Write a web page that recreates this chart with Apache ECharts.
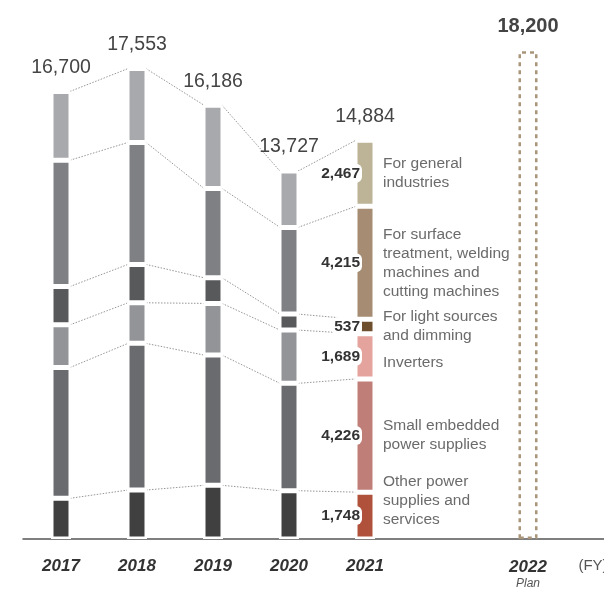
<!DOCTYPE html>
<html>
<head>
<meta charset="utf-8">
<script src="https://cdn.jsdelivr.net/npm/echarts@6/dist/echarts.min.js"></script>
<style>
  html, body { margin: 0; padding: 0; background: #fff; }
  #chart { width: 604px; height: 590px; }
</style>
</head>
<body>
<div id="chart"></div>
<script>
// fiscal years and sales by application (bottom to top of each stack)
const years = ['2017', '2018', '2019', '2020', '2021'];
const otherPower = [1518, 1828, 2003, 1802, 1748];
const smallEmbedded = [4880, 5472, 4860, 4006, 4226];
const inverters = [1593, 1514, 1928, 1988, 1689];
const lightSources = [1429, 1432, 955, 597, 537];
const surfaceTreatment = [4714, 4551, 3335, 3234, 4215];
const generalIndustries = [2566, 2756, 3105, 2100, 2467];
const totals = [16700, 17553, 16186, 13727, 14884];
const planYear = '2022';
const planTotal = 18200;

const segments = [otherPower, smallEmbedded, inverters, lightSources, surfaceTreatment, generalIndustries];
const segmentNames = [
    'Other power\nsupplies and\nservices',
    'Small embedded\npower supplies',
    'Inverters',
    'For light sources\nand dimming',
    'For surface\ntreatment, welding\nmachines and\ncutting machines',
    'For general\nindustries'
];
const greys = ['#404040', '#6a6b6f', '#939498', '#58595b', '#7f8084', '#a8a9ac'];
const colors2021 = ['#b0523b', '#c07e78', '#e5a39d', '#6d4f2e', '#a58c73', '#bdb497'];
const nameOffsets = [-15, 0, 6, 0, 0, 0];

const fmt = v => v.toLocaleString('en-US');
const last = years.length - 1;

// cumulative tops of each segment for the connector lines
const cumTops = segments.map((s, k) => years.map((y, i) => {
    let sum = 0;
    for (let j = 0; j <= k; j++) sum += segments[j][i];
    return sum;
}));

var chartDom = document.getElementById('chart');
var myChart = echarts.init(chartDom);
var option;

const barSeries = segments.map((vals, k) => ({
    type: 'bar',
    stack: 'all',
    barWidth: 20,
    z: 3,
    itemStyle: { color: greys[k], borderColor: '#fff', borderWidth: 2.5 },
    data: vals.map((v, i) => i === last ? {
        value: v,
        itemStyle: { color: colors2021[k] },
        label: {
            show: true,
            position: [7, '50%'],
            align: 'right',
            verticalAlign: 'middle',
            formatter: fmt(v),
            fontFamily: 'Liberation Sans, Arial, sans-serif',
            fontWeight: 'bold',
            fontSize: 15.5,
            color: '#333',
            backgroundColor: '#fff',
            borderRadius: 6,
            padding: [2, 2, 1, 2]
        }
    } : v)
}));

option = {
    animation: false,
    grid: [
        { left: 23, width: 608, top: 3, bottom: 51, outerBoundsMode: 'none' },
        { left: 500, width: 56, top: 3, bottom: 51, outerBoundsMode: 'none' }
    ],
    xAxis: [
        {
            type: 'category',
            gridIndex: 0,
            data: years.concat(['', '', { value: '(FY)', textStyle: { fontWeight: 'normal', fontStyle: 'normal', color: '#555', fontSize: 15, fontFamily: 'Liberation Sans, Arial, sans-serif' } }]),
            axisLine: { lineStyle: { color: '#555', width: 1.5 } },
            axisTick: { show: false },
            axisLabel: {
                margin: 19,
                fontFamily: 'Liberation Sans Narrow, Liberation Sans, Arial, sans-serif',
                fontWeight: 'bold',
                fontStyle: 'italic',
                fontSize: 17,
                color: '#333',
                interval: 0
            }
        },
        {
            type: 'category',
            gridIndex: 1,
            data: [planYear],
            axisLine: { show: false },
            axisTick: { show: false },
            axisLabel: {
                margin: 19,
                formatter: v => '{y|' + v + '}\n{p|Plan}',
                rich: {
                    y: {
                        fontFamily: 'Liberation Sans Narrow, Liberation Sans, Arial, sans-serif',
                        fontWeight: 'bold', fontStyle: 'italic', fontSize: 17, color: '#333', lineHeight: 18
                    },
                    p: {
                        fontFamily: 'Liberation Sans, Arial, sans-serif',
                        fontStyle: 'italic', fontSize: 12, color: '#555', lineHeight: 16
                    }
                }
            }
        }
    ],
    yAxis: [
        { type: 'value', gridIndex: 0, min: 0, max: 20000, show: false },
        { type: 'value', gridIndex: 1, min: 0, max: 20000, show: false }
    ],
    series: barSeries.concat([
        {
            // zero-height cap carrying the total labels
            type: 'bar',
            stack: 'all',
            barWidth: 20,
            z: 4,
            itemStyle: { color: 'transparent', borderWidth: 0 },
            data: totals.map(() => 0),
            label: {
                show: true,
                position: 'top',
                distance: 14,
                formatter: p => fmt(totals[p.dataIndex]),
                fontFamily: 'Liberation Sans, Arial, sans-serif',
                fontSize: 19.5,
                color: '#444',
                fontWeight: 'normal'
            },
            labelLayout: { hideOverlap: false }
        },
        {
            type: 'bar',
            xAxisIndex: 1,
            yAxisIndex: 1,
            barWidth: 19,
            data: [planTotal],
            itemStyle: {
                color: 'rgba(0,0,0,0)',
                borderColor: '#a8957a',
                borderWidth: 2.5,
                borderType: [4, 4]
            },
            label: {
                show: true,
                position: 'top',
                distance: 15,
                formatter: p => fmt(p.value),
                fontFamily: 'Liberation Sans, Arial, sans-serif',
                fontWeight: 'bold',
                fontSize: 20,
                color: '#444'
            }
        },
        {
            // dotted connectors between matching segment tops
            type: 'custom',
            xAxisIndex: 0,
            yAxisIndex: 0,
            z: 2,
            silent: true,
            data: years.slice(0, last).map((y, i) => [i, 0]),
            renderItem: (params, api) => {
                const i = api.value(0);
                const children = cumTops.map(tops => {
                    const a = api.coord([i, tops[i]]);
                    const b = api.coord([i + 1, tops[i + 1]]);
                    return {
                        type: 'line',
                        shape: { x1: a[0] + 9, y1: a[1], x2: b[0] - 9, y2: b[1] },
                        style: { stroke: '#8a8a8a', lineWidth: 0.9, lineDash: [1.5, 1.5] }
                    };
                });
                return { type: 'group', children: children };
            }
        },
        {
            // application names beside the 2021 stack
            type: 'custom',
            xAxisIndex: 0,
            yAxisIndex: 0,
            z: 5,
            silent: true,
            data: segments.map((s, k) => [last, cumTops[k][last] - s[last] / 2, k]),
            renderItem: (params, api) => {
                const k = api.value(2);
                const p = api.coord([api.value(0), api.value(1)]);
                return {
                    type: 'text',
                    x: p[0] + 18,
                    y: p[1] + nameOffsets[k],
                    style: {
                        text: segmentNames[k],
                        fill: '#6b6b6b',
                        fontSize: 15.5,
                        fontFamily: 'Liberation Sans, Arial, sans-serif',
                        lineHeight: 19,
                        align: 'left',
                        verticalAlign: 'middle',
                        textAlign: 'left',
                        textVerticalAlign: 'middle'
                    }
                };
            }
        }
    ])
};

option && myChart.setOption(option);
</script>
</body>
</html>
